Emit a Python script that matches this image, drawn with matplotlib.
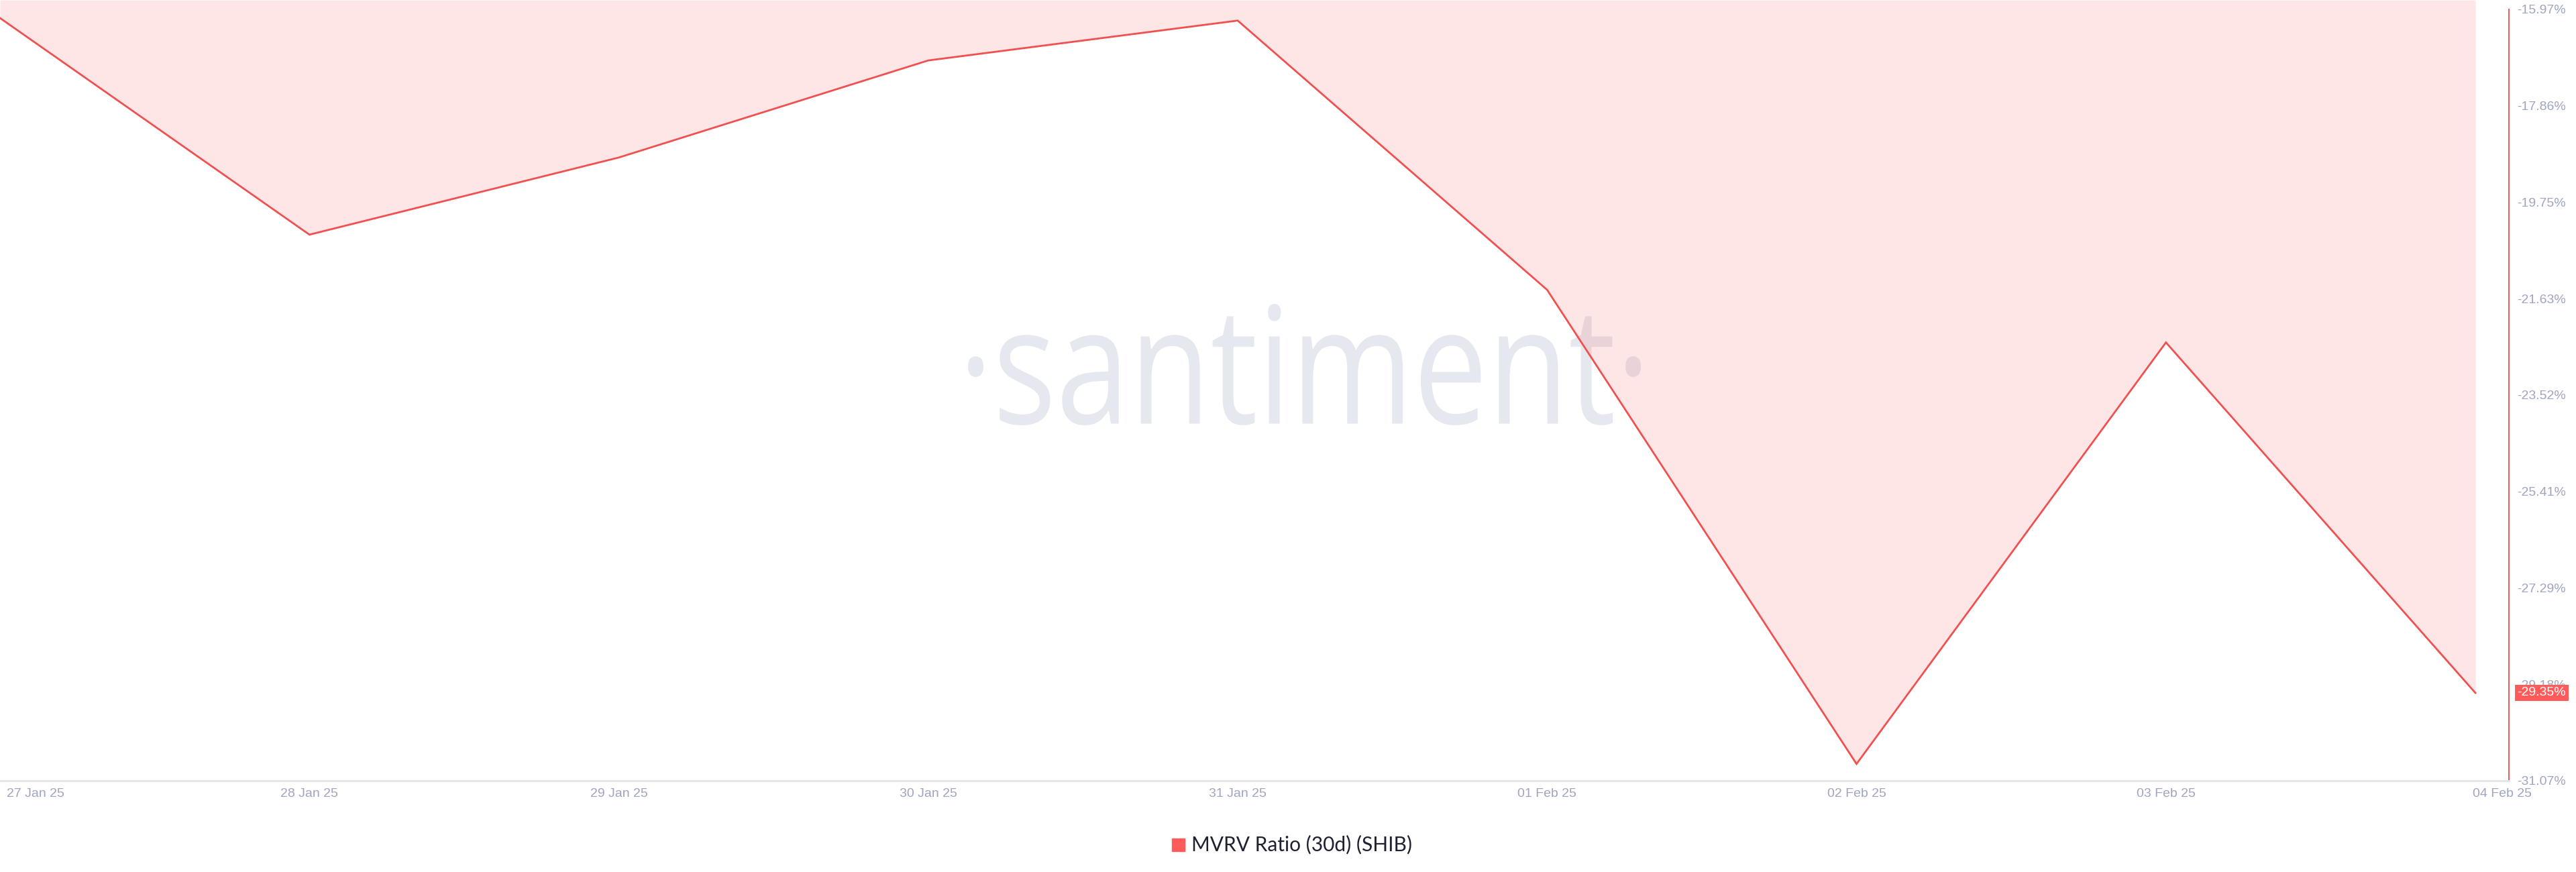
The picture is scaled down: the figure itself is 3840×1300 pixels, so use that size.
import numpy as np
import matplotlib
matplotlib.use("Agg")
import matplotlib.pyplot as plt
from matplotlib.textpath import TextPath
from matplotlib.patches import PathPatch, Rectangle
from matplotlib.font_manager import FontProperties
from matplotlib.transforms import Affine2D, ScaledTranslation

plt.rcParams['font.family'] = ['Liberation Sans', 'DejaVu Sans']

# data
dates = ["27 Jan 25", "28 Jan 25", "29 Jan 25", "30 Jan 25", "31 Jan 25",
         "01 Feb 25", "02 Feb 25", "03 Feb 25", "04 Feb 25"]
mvrv = [-16.14, -20.38, -18.87, -16.97, -16.19, -21.46, -30.74, -22.49, -29.35]
y_ticks = [-15.97, -17.86, -19.75, -21.63, -23.52, -25.41, -27.29, -29.18, -31.07]
legend_label = "MVRV Ratio (30d) (SHIB)"

W, H = 3840, 1300
RED = '#ff5b5b'
LINE = '#f05050'
TICK_COLOR = '#a0a5c0'

fig = plt.figure(figsize=(W / 100, H / 100), dpi=100)
fig.patch.set_facecolor('white')
ax = fig.add_axes([0, 136 / H, 3740 / W, 1164 / H])

x = np.arange(len(dates))
ymin = y_ticks[-1]
ymax = -15.787

# watermark, condensed by scaling a text path
tp = TextPath((0, 0), "\u00b7santiment\u00b7", size=100,
              prop=FontProperties(family='Open Sans'))
ext = tp.get_extents()
sx = 1003 / ext.width
sy = 181 / ext.height
tr = Affine2D().translate(-ext.x0, -ext.y0).scale(sx, sy).translate(1443, H - 634)
ax.add_patch(PathPatch(tp, transform=tr, facecolor='#e6e8f0', edgecolor='none', zorder=1))

ax.fill_between(x, mvrv, ymax, color=RED, alpha=0.15, lw=0, zorder=2)
ax.plot(x, mvrv, color=LINE, lw=2, zorder=3, solid_joinstyle='miter')

ax.set_xlim(0, (len(dates) - 1) * 3740 / 3690)
ax.set_ylim(ymin, ymax)

for side in ['top', 'left']:
    ax.spines[side].set_visible(False)
ax.spines['bottom'].set_color('#e6e6ea')
ax.spines['bottom'].set_linewidth(2)
ax.spines['right'].set_color('#e06464')
ax.spines['right'].set_linewidth(1.5)
ax.spines['right'].set_bounds(y_ticks[-1], y_ticks[0])

ax.yaxis.tick_right()
ax.set_yticks(y_ticks)
ax.set_yticklabels(["{:.2f}%".format(v) for v in y_ticks])
ax.tick_params(axis='y', length=0, pad=9, labelsize=14, labelcolor=TICK_COLOR)

ax.set_xticks(x)
ax.set_xticklabels(dates)
ax.tick_params(axis='x', length=0, pad=8, labelsize=14, labelcolor=TICK_COLOR)

# last value tag
ax.annotate("{:.2f}%".format(mvrv[-1]), xy=(1, mvrv[-1]),
            xycoords=('axes fraction', 'data'), xytext=(9, 0),
            textcoords='offset points', va='center', ha='left',
            color='white', fontsize=14,
            bbox=dict(boxstyle='square,pad=0.18', fc=RED, ec='none'),
            annotation_clip=False, zorder=10)

# legend
fig.add_artist(Rectangle((1747 / W, 31 / H), 19 / W, 19 / H,
                         transform=fig.transFigure, color=RED))
fig.text(1776 / W, 41 / H, legend_label, va='center', ha='left',
         fontsize=21.5, family=['Lato', 'DejaVu Sans'], color='#1e2132')

# edge x labels are nudged to fit, like in the original
labels = ax.get_xticklabels()
labels[0].set_ha('left')
labels[0].set_transform(labels[0].get_transform() + ScaledTranslation(0.10, 0, fig.dpi_scale_trans))
labels[-1].set_transform(labels[-1].get_transform() + ScaledTranslation(0.40, 0, fig.dpi_scale_trans))

fig.savefig('out.png', dpi=100, facecolor='white')
